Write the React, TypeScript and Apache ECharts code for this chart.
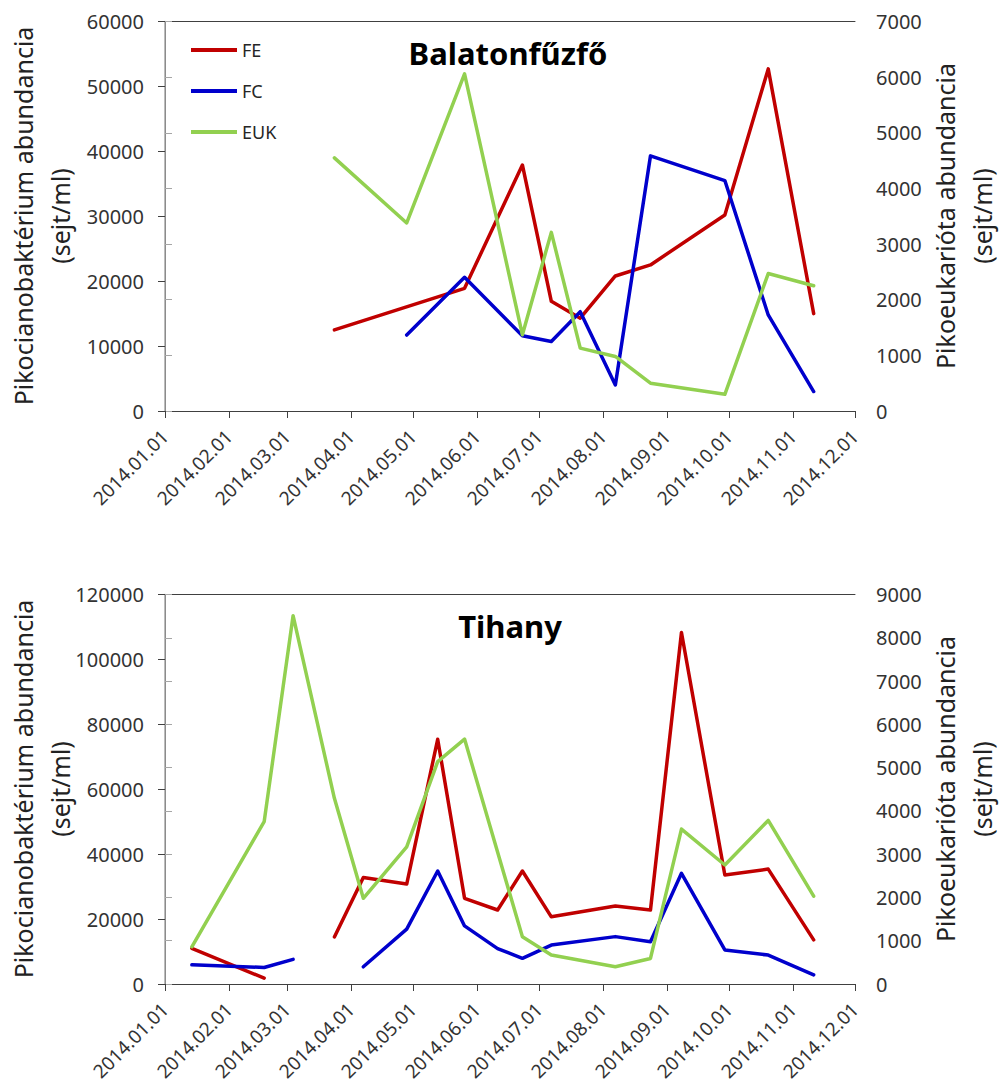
import React, { useEffect, useRef } from "react";
import * as echarts from "echarts";

// ---- data ----
const monthTicks = [
  "2014-01-01", "2014-02-01", "2014-03-01", "2014-04-01", "2014-05-01", "2014-06-01",
  "2014-07-01", "2014-08-01", "2014-09-01", "2014-10-01", "2014-11-01", "2014-12-01",
];

const balatonDates = [
  "2014-03-24", "2014-04-28", "2014-05-26", "2014-06-23", "2014-07-07", "2014-07-21",
  "2014-08-07", "2014-08-24", "2014-09-29", "2014-10-20", "2014-11-11",
];
const balatonFE = [12500, null, 18900, 37900, 16900, 14300, 20800, 22500, 30200, 52700, 15000];
const balatonFC = [null, 11700, 20600, 11600, 10700, 15300, 4000, 39300, 35500, 14800, 3000];
const balatonEUK = [4550, 3380, 6060, 1370, 3210, 1130, 980, 500, 300, 2470, 2250];

const tihanyDates = [
  "2014-01-14", "2014-02-18", "2014-03-04", "2014-03-24", "2014-04-07", "2014-04-28",
  "2014-05-13", "2014-05-26", "2014-06-11", "2014-06-23", "2014-07-07", "2014-08-07",
  "2014-08-24", "2014-09-08", "2014-09-29", "2014-10-20", "2014-11-11",
];
const tihanyFE = [11000, 1800, null, 14500, 32800, 30800, 75400, 26400, 22800, 34800, 20700, 24000, 22800, 108300, 33600, 35400, 13600];
const tihanyFC = [5900, 5100, 7600, null, 5300, 16900, 34800, 17900, 10900, 7900, 12000, 14600, 13000, 34100, 10500, 8900, 2800];
const tihanyEUK = [860, 3750, 8510, 4290, 1980, 3170, 5140, 5660, null, 1090, 670, 400, 590, 3580, 2750, 3780, 2030];

const seriesNames = ["FE", "FC", "EUK"];
const seriesColors = ["#C00000", "#0000CC", "#92D050"];
const leftTitle = "Pikocianobaktérium abundancia\n(sejt/ml)";
const rightTitle = "Pikoeukarióta abundancia\n(sejt/ml)";
const chartTitles = ["Balatonfűzfő", "Tihany"];

// ---- helpers ----
const FONT = "'Noto Sans', 'DejaVu Sans', sans-serif";
const dayOf = (s: string) => {
  const [y, m, d] = s.split("-").map(Number);
  return (Date.UTC(y, m - 1, d) - Date.UTC(2014, 0, 1)) / 86400000;
};
const tickDays = monthTicks.map(dayOf);
const tickLabels = monthTicks.map((s) => s.replace(/-/g, "."));
const pairs = (dates: string[], vals: (number | null)[]) => dates.map((d, i) => [dayOf(d), vals[i]]);

export default function App() {
  const ref = useRef<HTMLDivElement>(null);
  useEffect(() => {
    if (!ref.current) return;
    const chart = echarts.init(ref.current, null, { renderer: "svg" });

    const grids = [
      { left: 165, top: 21.5, width: 690, height: 389.5, outerBoundsMode: "none", containLabel: false },
      { left: 165, top: 594.5, width: 690, height: 389.5, outerBoundsMode: "none", containLabel: false },
    ];
    const labelStyle = { color: "#333333", fontFamily: FONT, fontSize: 20 };
    const plain = (v: number) => String(v);

    const xAxes: any[] = [];
    const yAxes: any[] = [];
    [0, 1].forEach((g) => {
      xAxes.push({
        type: "value", gridIndex: g, min: 0, max: dayOf("2014-12-01"), position: "bottom",
        axisLine: { show: true, onZero: false, lineStyle: { color: "#404040", width: 1 } },
        axisTick: { show: true, length: 7, customValues: tickDays, lineStyle: { color: "#404040" } },
        axisLabel: {
          ...labelStyle, fontSize: 19, rotate: 45, margin: 22, customValues: tickDays,
          formatter: (v: number) => { const i = tickDays.indexOf(v); return i >= 0 ? tickLabels[i] : ""; },
        },
        splitLine: { show: false },
      });
      xAxes.push({
        type: "value", gridIndex: g, min: 0, max: dayOf("2014-12-01"), position: "top",
        axisLine: { show: true, onZero: false, lineStyle: { color: "#404040", width: 1 } },
        axisTick: { show: false }, axisLabel: { show: false }, splitLine: { show: false },
      });
      const leftMax = g === 0 ? 60000 : 120000;
      const leftInt = g === 0 ? 10000 : 20000;
      const rightMax = g === 0 ? 7000 : 9000;
      yAxes.push({
        type: "value", gridIndex: g, position: "left", min: 0, max: leftMax, interval: leftInt,
        axisLine: { show: true, lineStyle: { color: "#404040", width: 1 } },
        axisTick: { show: true, length: 7, lineStyle: { color: "#404040" } },
        axisLabel: { ...labelStyle, margin: 21, formatter: plain },
        splitLine: { show: false },
      });
      yAxes.push({
        type: "value", gridIndex: g, position: "right", min: 0, max: rightMax, interval: 1000,
        axisLine: { show: true, lineStyle: { color: "#A6A6A6", width: 1.5 } },
        axisTick: { show: true, length: 7, lineStyle: { color: "#A6A6A6" } },
        axisLabel: { ...labelStyle, margin: 21, formatter: plain },
        splitLine: { show: false },
      });
    });

    const mk = (name: string, color: string, data: any[], g: number, right: boolean, connect: boolean) => ({
      name, type: "line", data, xAxisIndex: g * 2, yAxisIndex: g * 2 + (right ? 1 : 0),
      showSymbol: false, symbol: "none", connectNulls: connect,
      lineStyle: { color, width: 3.5, cap: "round", join: "round" }, itemStyle: { color },
    });

    const series = [
      mk(seriesNames[0], seriesColors[0], pairs(balatonDates, balatonFE), 0, false, true),
      mk(seriesNames[1], seriesColors[1], pairs(balatonDates, balatonFC), 0, false, true),
      mk(seriesNames[2], seriesColors[2], pairs(balatonDates, balatonEUK), 0, true, true),
      mk(seriesNames[0], seriesColors[0], pairs(tihanyDates, tihanyFE), 1, false, false),
      mk(seriesNames[1], seriesColors[1], pairs(tihanyDates, tihanyFC), 1, false, false),
      mk(seriesNames[2], seriesColors[2], pairs(tihanyDates, tihanyEUK), 1, true, true),
    ];

    const axisTitle = (text: string, x: number, y: number) => ({
      type: "text", x, y, rotation: Math.PI / 2,
      style: { text, fill: "#222", fontSize: 25, fontFamily: FONT, align: "center", verticalAlign: "middle", lineHeight: 37 },
    });
    const bigTitle = (text: string, x: number, y: number) => ({
      type: "text", x, y,
      style: { text, fill: "#000", fontSize: 31, fontWeight: "bold", fontFamily: FONT, align: "center", verticalAlign: "middle" },
    });

    chart.setOption({
      animation: false,
      backgroundColor: "#fff",
      grid: grids,
      xAxis: xAxes,
      yAxis: yAxes,
      legend: {
        data: seriesNames, orient: "vertical", left: 186, top: 36,
        icon: "rect", itemWidth: 46, itemHeight: 4, itemGap: 23,
        textStyle: { color: "#262626", fontFamily: FONT, fontSize: 18, lineHeight: 18 },
      },
      series,
      graphic: [
        axisTitle(leftTitle, 41, 216),
        axisTitle(rightTitle, 963, 216),
        axisTitle(leftTitle, 41, 789),
        axisTitle(rightTitle, 963, 789),
        bigTitle(chartTitles[0], 508, 53),
        bigTitle(chartTitles[1], 510, 626),
      ],
    });
    return () => chart.dispose();
  }, []);
  return <div ref={ref} style={{ position: "fixed", left: 0, top: 0, width: 1002, height: 1089 }} />;
}
